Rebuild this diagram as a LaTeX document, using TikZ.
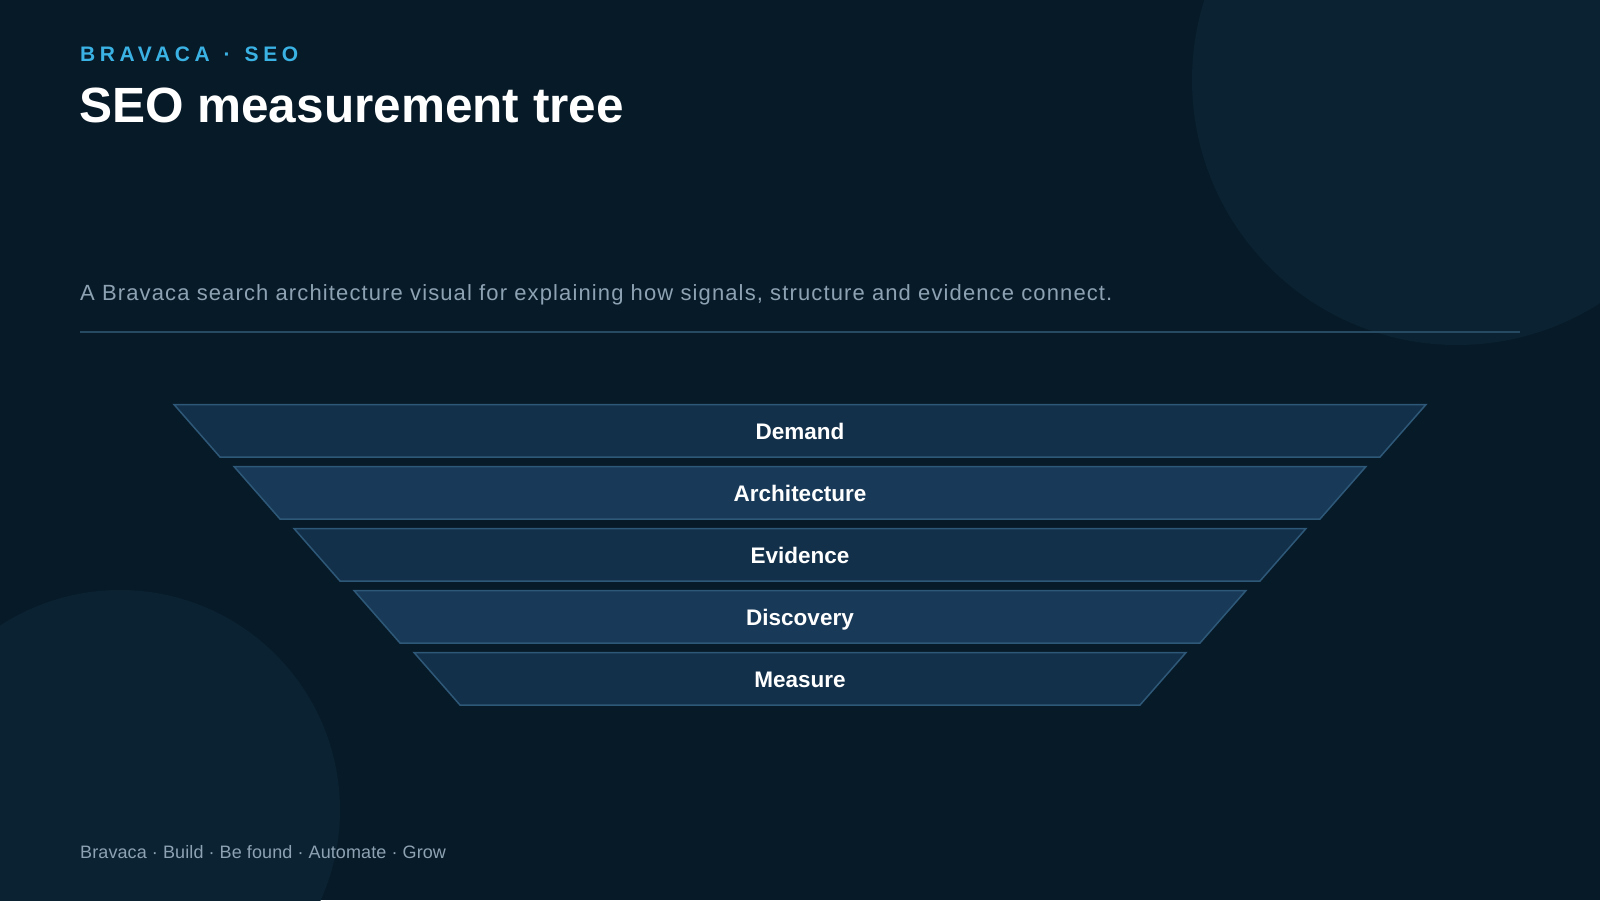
\documentclass[tikz,border=0pt]{standalone}
\usepackage{fontspec}
\setmainfont{Liberation Sans}
\usepackage{tikz}

\definecolor{bgcol}{HTML}{071A28}
\definecolor{blobcol}{HTML}{0B2232}
\definecolor{kicker}{HTML}{3BB2E4}
\definecolor{subcol}{HTML}{8DA2B3}
\definecolor{rulecol}{HTML}{264A62}
\definecolor{layerA}{HTML}{13304A}
\definecolor{layerB}{HTML}{183A58}
\definecolor{edgecol}{HTML}{2E5878}

\begin{document}
\begin{tikzpicture}[x=1pt,y=-1pt]
	\tikzstyle{layer}=[draw=edgecol,line width=1.5pt,line join=miter]
	\tikzstyle{lbl}=[text=white,font=\bfseries\fontsize{22.5}{26}\selectfont,inner sep=0pt,anchor=base]

	% backdrop
	\fill[bgcol] (0,0) rectangle (1600,900);
	\useasboundingbox (0,0) rectangle (1600,900);
	\fill[blobcol] (1457,80) circle (265);
	\fill[blobcol] (120,810) circle (220);

	% heading
	\node[anchor=base west,inner sep=0pt,text=kicker,font=\bfseries\fontsize{21}{24}\selectfont\addfontfeatures{LetterSpace=22}] (kick) at (80,61) {BRAVACA\ \,·\ \,SEO};
	\node[anchor=base west,inner sep=0pt,text=white,font=\bfseries\fontsize{49.5}{56}\selectfont] (title) at (79,122) {SEO measurement tree};
	\node[anchor=base west,inner sep=0pt,text=subcol,font=\fontsize{22}{24}\selectfont\addfontfeatures{LetterSpace=5.1}] (sub) at (80,300) {A Bravaca search architecture visual for explaining how signals, structure and evidence connect.};
	\coordinate (r0) at (80,332);
	\coordinate (r1) at (1520,332);
	\draw[rulecol,line width=1.6pt] (r0) -- (r1);

	% funnel layers
	\foreach \i/\name/\col in {0/Demand/layerA,1/Architecture/layerB,2/Evidence/layerA,3/Discovery/layerB,4/Measure/layerA} {
		\pgfmathsetmacro\w{626-60*\i}
		\pgfmathsetmacro\t{404.5+62*\i}
		\draw[layer,fill=\col] (800-\w,\t) -- (800+\w,\t) -- (800+\w-46,\t+52.5) -- (800-\w+46,\t+52.5) -- cycle;
		\node[lbl] (l\i) at (800,\t+34.5) {\name};
	}

	% footer
	\node[anchor=base west,inner sep=0pt,text=subcol,font=\fontsize{18}{20}\selectfont\addfontfeatures{LetterSpace=0.6}] (foot) at (80,858) {Bravaca · Build · Be found · Automate · Grow};
\end{tikzpicture}
\end{document}
